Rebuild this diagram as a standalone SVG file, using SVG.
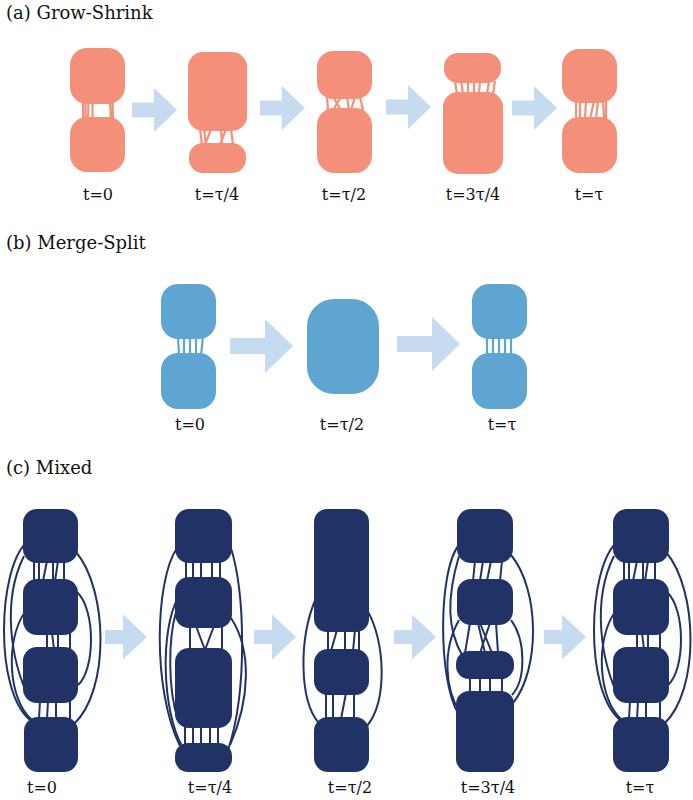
<svg xmlns="http://www.w3.org/2000/svg" width="693" height="800" viewBox="0 0 693 800">
<style>
text{font-family:'DejaVu Serif','Liberation Serif',serif}
.title{font-size:18px;fill:#111}
.lbl{font-size:16px;fill:#111;text-anchor:middle}
.arrow{fill:#C6DBEF}
.sa{fill:#F4907A}
.se{stroke:#F4907A;stroke-width:2.2;fill:none}
.ba{fill:#5FA5D1}
.be{stroke:#5FA5D1;stroke-width:2.2;fill:none}
.na{fill:#213366}
.ne{stroke:#213366;stroke-width:2;fill:none}
</style>
<defs>
<path id="arA" d="M0,-7.5 H22 V-22 L45,0 L22,22 V7.5 H0 Z"/>
<path id="arB" d="M0,-8 H35 V-27 L63,0 L35,27 V8 H0 Z"/>
<path id="arC" d="M0,-7 H18 V-22.5 L42,0 L18,22.5 V7 H0 Z"/>
</defs>
<rect width="693" height="800" fill="#fff"/>

<text class="title" x="6" y="19">(a) Grow-Shrink</text>
<text class="title" x="6" y="249">(b) Merge-Split</text>
<text class="title" x="6" y="474">(c) Mixed</text>

<g id="connectors">
<g id="edges-a">
<path class="se" d="M83,102 V119 M85.5,102 V119 M88.5,102 L88,119 M92.5,102 V119 M110,102 L111,119 M112.5,102 L113,119"/>
<path class="se" d="M200,129 L202,145 M204,129 L206,145 M211,129 L205,145 M221,129 L222,145 M226,129 L220,145 M231,129 L233,145"/>
<path class="se" d="M327,97 L328,110 M333,97 L341,110 M341,97 L333,110 M347,97 L349,110 M355,97 L351,110 M360,97 L363,110"/>
<path class="se" d="M455,81 L457,94 M461,81 L463,94 M468,81 L468,94 M474,81 L474,94 M480,81 L479,94 M489,81 L487,94 M495,81 L493,94"/>
<path class="se" d="M576,101 V119 M580,101 V119 M586,101 L585,119 M594,101 L590,119 M598,101 L596,119 M603,101 L604,119 M606,101 V119"/>
</g>
<g id="edges-b">
<path class="be" d="M178,337 L179,355 M184,337 V355 M190,337 V355 M196,337 V355 M203,337 L201,355"/>
<path class="be" d="M487,337 V355 M493,337 V355 M499,337 V355 M505,337 V355 M511,337 V355"/>
</g>
<g id="edges-c">
<path class="ne" d="M34,561 V581 M39,561 V581 M47,561 L43,581 M53,561 V581 M58,561 L55,581 M64,561 V581"/>
<path class="ne" d="M47,633 V649 M52,633 L54,649 M58,633 V649 M70,633 V649"/>
<path class="ne" d="M40,701 L39,719 M48,701 L47,719 M56,701 V719 M70,701 V719"/>
<path class="ne" d="M26,543 C-2,570 -6,690 30,720"/>
<path class="ne" d="M24,556 C2,600 10,660 30,700"/>
<path class="ne" d="M25,612 C5,640 8,700 32,720"/>
<path class="ne" d="M76,552 C108,590 110,690 74,724"/>
<path class="ne" d="M77,592 C96,610 95,670 78,685"/>
<path class="ne" d="M186,561 V579 M193,561 V579 M201,561 V579 M212,561 V579 M220,561 V579"/>
<path class="ne" d="M190,626 V650 M196,626 L205,650 M214,626 L205,650 M222,626 V650"/>
<path class="ne" d="M185,726 V745 M193,726 V745 M201,726 V745 M210,726 V745 M218,726 V745"/>
<path class="ne" d="M177,548 C155,580 152,690 180,746"/>
<path class="ne" d="M178,598 C160,630 162,710 182,746"/>
<path class="ne" d="M176,612 C168,640 168,690 178,720"/>
<path class="ne" d="M230,545 C245,590 248,690 228,750"/>
<path class="ne" d="M231,618 C252,650 250,700 230,745"/>
<path class="ne" d="M328,630 V651 M337,630 L331,651 M345,630 V651 M355,630 L353,651 M359,630 V651"/>
<path class="ne" d="M326,693 V719 M333,693 V719 M346,693 L341,719 M354,693 V719"/>
<path class="ne" d="M316,598 C298,640 300,700 318,722"/>
<path class="ne" d="M367,610 C385,640 388,700 367,726"/>
<path class="ne" d="M475,561 L473,581 M483,561 L480,581 M491,561 L487,581 M502,561 L500,581"/>
<path class="ne" d="M470,623 L465,653 M478,623 L485,653 M490,623 L480,653 M496,623 L498,653 M480,623 L492,653"/>
<path class="ne" d="M470,677 V693 M480,677 V693 M490,677 V693 M502,677 V693"/>
<path class="ne" d="M459,545 C438,570 438,680 458,713"/>
<path class="ne" d="M459,556 C446,600 448,630 462,655"/>
<path class="ne" d="M459,620 C442,650 445,690 460,712"/>
<path class="ne" d="M511,555 C540,590 540,670 513,703"/>
<path class="ne" d="M511,620 C526,640 526,680 512,695"/>
<path class="ne" d="M624,561 V581 M629,561 V581 M637,561 L633,581 M643,561 V581 M648,561 L645,581 M655,561 V581"/>
<path class="ne" d="M637,633 V649 M642,633 L644,649 M648,633 V649 M660,633 V649"/>
<path class="ne" d="M630,701 L629,719 M638,701 L637,719 M646,701 V719 M660,701 V719"/>
<path class="ne" d="M616,543 C588,570 584,690 620,720"/>
<path class="ne" d="M614,556 C592,600 600,660 620,700"/>
<path class="ne" d="M615,612 C595,640 598,700 622,720"/>
<path class="ne" d="M666,552 C698,590 700,690 664,724"/>
<path class="ne" d="M667,592 C686,610 685,670 668,685"/>
</g>
</g>

<g id="a-t0">
<rect class="sa" x="70" y="48" width="55" height="56" rx="17"/>
<rect class="sa" x="70" y="117" width="55" height="55" rx="17"/>
<text class="lbl" x="98" y="200">t=0</text>
</g>
<g id="a-t1">
<rect class="sa" x="188" y="52" width="59" height="79" rx="15"/>
<rect class="sa" x="189" y="143" width="57" height="30" rx="14"/>
<text class="lbl" x="217" y="200">t=τ/4</text>
</g>
<g id="a-t2">
<rect class="sa" x="317" y="51" width="55" height="48" rx="16"/>
<rect class="sa" x="317" y="108" width="55" height="65" rx="17"/>
<text class="lbl" x="344" y="200">t=τ/2</text>
</g>
<g id="a-t3">
<rect class="sa" x="444" y="53" width="57" height="30" rx="14"/>
<rect class="sa" x="443" y="92" width="60" height="82" rx="15"/>
<text class="lbl" x="473" y="200">t=3τ/4</text>
</g>
<g id="a-t4">
<rect class="sa" x="562" y="49" width="55" height="54" rx="17"/>
<rect class="sa" x="562" y="117" width="55" height="56" rx="17"/>
<text class="lbl" x="589" y="200">t=τ</text>
</g>
<g id="a-arrows">
<use href="#arA" class="arrow" x="132" y="110"/>
<use href="#arA" class="arrow" x="260" y="108"/>
<use href="#arA" class="arrow" x="386" y="107"/>
<use href="#arA" class="arrow" x="512" y="108"/>
</g>

<g id="b-t0">
<rect class="ba" x="161" y="284" width="55" height="55" rx="17"/>
<rect class="ba" x="161" y="353" width="55" height="56" rx="17"/>
<text class="lbl" x="190" y="430">t=0</text>
</g>
<g id="b-t1">
<rect class="ba" x="307" y="299" width="72" height="95" rx="27"/>
<text class="lbl" x="342" y="430">t=τ/2</text>
</g>
<g id="b-t2">
<rect class="ba" x="472" y="284" width="55" height="55" rx="17"/>
<rect class="ba" x="472" y="353" width="55" height="56" rx="17"/>
<text class="lbl" x="502" y="430">t=τ</text>
</g>
<g id="b-arrows">
<use href="#arB" class="arrow" x="230" y="346"/>
<use href="#arB" class="arrow" x="397" y="344"/>
</g>

<g id="c-t0">
<rect class="na" x="23" y="509" width="55" height="54" rx="14"/>
<rect class="na" x="23" y="579" width="55" height="56" rx="14"/>
<rect class="na" x="23" y="647" width="55" height="56" rx="14"/>
<rect class="na" x="24" y="717" width="54" height="55" rx="14"/>
<text class="lbl" x="42" y="793">t=0</text>
</g>
<g id="c-t1">
<rect class="na" x="175" y="509" width="57" height="54" rx="14"/>
<rect class="na" x="175" y="577" width="57" height="51" rx="14"/>
<rect class="na" x="175" y="648" width="57" height="80" rx="14"/>
<rect class="na" x="175" y="743" width="57" height="29" rx="13"/>
<text class="lbl" x="210" y="793">t=τ/4</text>
</g>
<g id="c-t2">
<rect class="na" x="314" y="509" width="55" height="123" rx="13"/>
<rect class="na" x="314" y="649" width="55" height="46" rx="14"/>
<rect class="na" x="314" y="717" width="55" height="55" rx="14"/>
<text class="lbl" x="350" y="793">t=τ/2</text>
</g>
<g id="c-t3">
<rect class="na" x="457" y="509" width="56" height="54" rx="14"/>
<rect class="na" x="457" y="579" width="56" height="46" rx="14"/>
<rect class="na" x="456" y="651" width="58" height="28" rx="13"/>
<rect class="na" x="456" y="691" width="58" height="81" rx="13"/>
<text class="lbl" x="488" y="793">t=3τ/4</text>
</g>
<g id="c-t4">
<rect class="na" x="613" y="509" width="56" height="54" rx="14"/>
<rect class="na" x="613" y="579" width="56" height="56" rx="14"/>
<rect class="na" x="613" y="647" width="56" height="56" rx="14"/>
<rect class="na" x="613" y="717" width="56" height="55" rx="14"/>
<text class="lbl" x="640" y="793">t=τ</text>
</g>
<g id="c-arrows">
<use href="#arC" class="arrow" x="105" y="637"/>
<use href="#arC" class="arrow" x="254" y="637"/>
<use href="#arC" class="arrow" x="394" y="637"/>
<use href="#arC" class="arrow" x="544" y="637"/>
</g>
</svg>
